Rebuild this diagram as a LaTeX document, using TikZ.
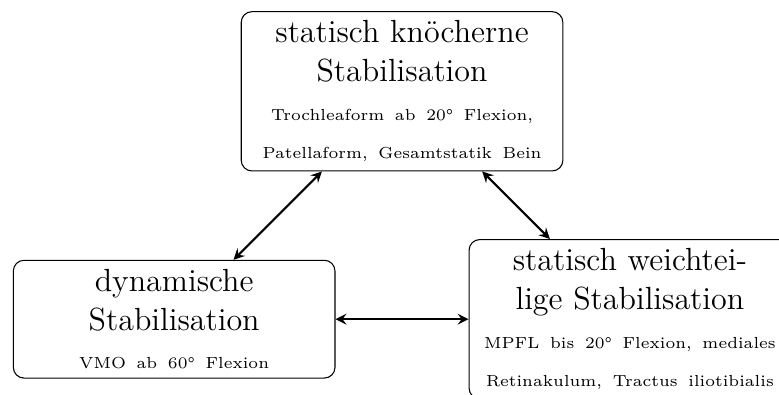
\documentclass[tikz,border=0pt]{standalone}
\usetikzlibrary{positioning}
\usetikzlibrary{arrows}

\newcommand{\klein}{\fontsize{6}{7}\selectfont}

\begin{document}
\begin{tikzpicture}[auto,on grid,node distance=3cm,
		stab/.style={draw,rounded corners,text width=4cm,align=center,font=\fontsize{12}{14.5}\selectfont},
		link/.style={<->,>=stealth,thick}]
	\useasboundingbox (0,0) rectangle (291.8pt,-147.6pt);
	\clip (0,0) rectangle (291.8pt,-147.6pt);
	% Place nodes
	\node [stab] (knoechern) at (150.6pt,-34.2pt) {statisch knöcherne\\Stabilisation\\{\klein Trochleaform ab 20° Flexion,}\\{\klein Patellaform, Gesamtstatik Bein}};
	\node [stab,below left=3cm and 3cm of knoechern] (dyn) {dynamische\\Stabilisation\\{\klein VMO ab 60° Flexion}};
	\node [stab,below right=3cm and 3cm of knoechern] (weich) {statisch weichtei-\\lige Stabilisation\\{\klein MPFL bis 20° Flexion, mediales}\\{\klein Retinakulum, Tractus iliotibialis}};

	\draw [link] (knoechern) -- (dyn);
	\draw [link] (knoechern) -- (weich);
	\draw [link] (dyn) -- (weich);
\end{tikzpicture}
\end{document}
